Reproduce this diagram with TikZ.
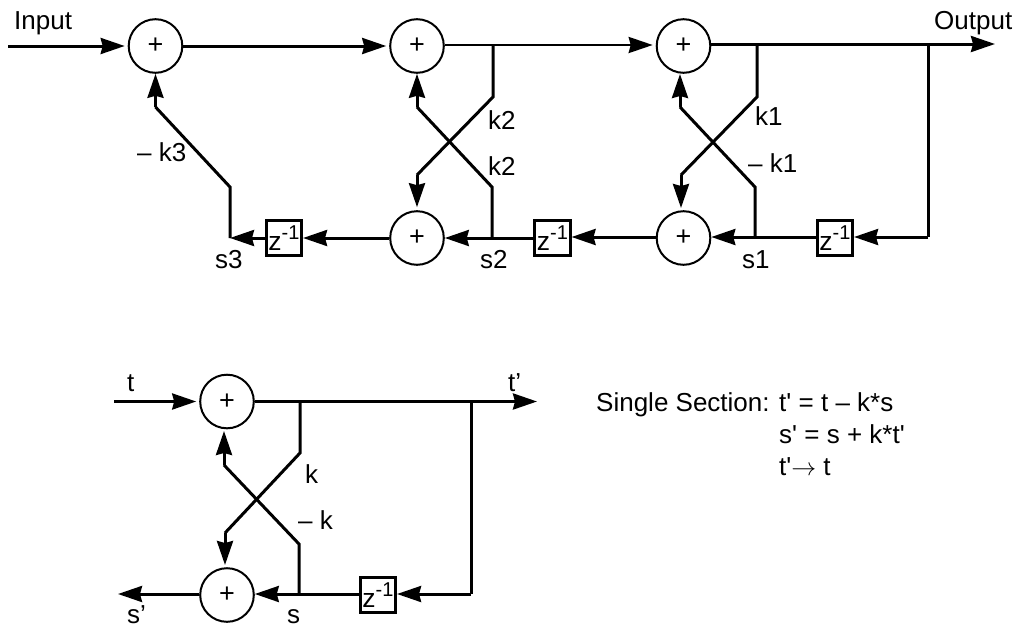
\documentclass[tikz,border=0pt]{standalone}
\usepackage{fontspec}
\setmainfont{Liberation Sans}
\newfontfamily\plainf{Liberation Sans}
\usetikzlibrary{arrows.meta}
\newcommand{\zinv}{\fontsize{26.5}{30}\selectfont z\raisebox{11pt}{\fontsize{20}{24}\selectfont -1}}
\tikzset{
  x=1pt,y=-1pt,
  wire/.style={line width=3pt,line join=miter},
  thinwire/.style={line width=2.5pt},
  tip/.tip={Stealth[length=24pt,width=16pt,inset=2pt]},
  arr/.style={-tip},
  gap/.style={shorten >=3pt},
  adder/.style={circle,draw,line width=2pt,minimum size=53.6pt,inner sep=0pt,font=\fontsize{27}{30}\selectfont},
  delay/.style={rectangle,draw,line width=2.6pt,minimum width=35.5pt,minimum height=35.5pt,inner sep=0pt},
  lab/.style={anchor=base west,inner sep=0pt,font=\plainf\fontsize{26}{30}\selectfont},
}
\begin{document}
\begin{tikzpicture}
\useasboundingbox (0,0) rectangle (1018,627);
% Upper lattice
\node[adder] (a1) at (155.5,46) {+};
\node[adder] (a2) at (417,46) {+};
\node[adder] (a3) at (683.5,46) {+};
\node[adder] (b2) at (417,238) {+};
\node[adder] (b3) at (683.5,238) {+};
\node[delay] (d3) at (284,238) {\zinv};
\node[delay] (d2) at (552.5,238) {\zinv};
\node[delay] (d1) at (835,238) {\zinv};
\coordinate (in) at (8,46);
\coordinate (out) at (995,44);
\coordinate (s3) at (230,238);
\coordinate (j2) at (493,45);
\coordinate (j1) at (757,44);
\coordinate (jo) at (928,44);
\coordinate (q2) at (492,238);
\coordinate (q1) at (755,237);
\coordinate (fb) at (928,237);
\draw[wire,arr,gap] (in) -- (a1);
\draw[wire,arr,gap] (a1) -- (a2);
\draw[thinwire] (a2.east |- j2) -- (j2);
\draw[thinwire,arr,gap] (j2) -- (a3.west |- j2);
\draw[wire,arr] (a3.east |- j1) -- (out);
\draw[wire] (j2) -- (493,97) -- (417,175);
\draw[wire,arr,gap] (417,175) -- (b2.north);
\draw[wire] (q2) -- (492,187) -- (417,107);
\draw[wire,arr] (417,107) -- (a2.south);
\draw[wire] (j1) -- (757,97) -- (681,175);
\draw[wire,arr] (681,175) -- (681,208);
\draw[wire] (q1) -- (755,187) -- (680,107);
\draw[wire,arr] (680,107) -- (680,74);
\draw[wire] (s3) -- (230,187) -- (155.5,107);
\draw[wire,arr] (155.5,107) -- (a1.south);
\draw[wire] (jo) -- (fb);
\draw[wire,arr] (fb) -- (d1.east |- fb);
\draw[wire,arr] (d1.west |- fb) -- (b3.east |- fb);
\draw[wire,arr] (b3.west |- fb) -- (d2.east |- fb);
\draw[wire,arr] (d2.west) -- (b2.east);
\draw[wire,arr] (b2.west) -- (d3.east);
\draw[wire,arr] (d3.west) -- (s3);
% Single section
\node[adder] (c1) at (227,401.5) {+};
\node[adder] (c2) at (227,595) {+};
\node[delay] (d0) at (378,595) {\zinv};
\coordinate (tin) at (114,401.5);
\coordinate (tout) at (537,401.5);
\coordinate (sout) at (118,594);
\coordinate (j0) at (300,401.5);
\coordinate (jt) at (471,401.5);
\coordinate (q0) at (299,594);
\coordinate (fb0) at (471,594);
\draw[wire,arr,gap] (tin) -- (c1);
\draw[wire,arr] (c1) -- (tout);
\draw[wire] (j0) -- (300,453) -- (225,533);
\draw[wire,arr] (225,533) -- (225,565);
\draw[wire] (q0) -- (299,544) -- (224,465);
\draw[wire,arr] (224,465) -- (224,431);
\draw[wire] (jt) -- (fb0);
\draw[wire,arr] (fb0) -- (d0.east |- fb0);
\draw[wire,arr] (d0.west |- fb0) -- (c2.east |- fb0);
\draw[wire,arr] (c2.west |- sout) -- (sout);
% Labels
\node[lab] (l1) at (14,29) {Input};
\node[lab] (l2) at (934,29) {Output};
\node[lab] (l3) at (488,129) {k2};
\node[lab] (l4) at (488,175) {k2};
\node[lab] (l5) at (137,161) {– k3};
\node[lab] (l6) at (215,268) {s3};
\node[lab] (l7) at (480,268) {s2};
\node[lab] (l8) at (755,125) {k1};
\node[lab] (l9) at (748,172) {– k1};
\node[lab] (l10) at (742,268) {s1};
\node[lab] (l11) at (127,391) {t};
\node[lab] (l12) at (508,391) {t’};
\node[lab] (l13) at (305,483) {k};
\node[lab] (l14) at (298,529) {– k};
\node[lab] (l15) at (127,623) {s’};
\node[lab] (l16) at (287,623) {s};
\node[lab] (t1) at (596,411) {Single Section: t' = t – k*s};
\node[lab] (t2) at (779,443) {s' = s + k*t'};
\node[lab] (t3) at (779,475) {t'$\rightarrow$ t};
\end{tikzpicture}
\end{document}
